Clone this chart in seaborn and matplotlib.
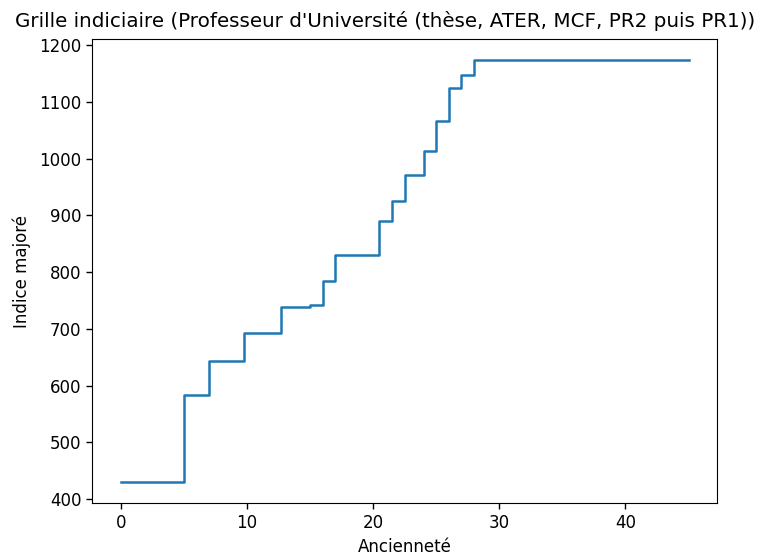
import matplotlib
matplotlib.use("Agg")
import matplotlib.pyplot as plt
import seaborn as sns
import pandas as pd

anciennete = [0, 5, 7, 9.75, 12.67, 15, 16, 17, 20.5, 21.5, 22.5, 24, 25, 26, 27, 28, 45]
indice = [430, 584, 643, 693, 739, 743, 785, 830, 890, 925, 972, 1013, 1067, 1124, 1148, 1173, 1173]

df = pd.DataFrame({"Ancienneté": anciennete, "Indice majoré": indice})

fig = plt.figure(figsize=(7.67, 5.55), dpi=100)
ax = fig.add_axes([0.1203, 0.0931, 0.8145, 0.8361])
sns.lineplot(data=df, x="Ancienneté", y="Indice majoré", ax=ax,
             drawstyle="steps-post", estimator=None, color="#1f77b4", linewidth=1.8)
fig.text(0.502, 0.963, "Grille indiciaire (Professeur d'Université (thèse, ATER, MCF, PR2 puis PR1))",
         fontsize=14.3, ha="center", va="center")
ax.set_xlabel("Ancienneté", fontsize=12)
ax.set_ylabel("Indice majoré", fontsize=12, labelpad=6)
ax.tick_params(labelsize=12, length=4.2, width=1)
ax.set_xticks([0, 10, 20, 30, 40])
ax.set_yticks(range(400, 1201, 100))
ax.set_xlim(-2.25, 47.25)
ax.set_ylim(392.85, 1210.15)
fig.savefig("out.png", dpi=100)
